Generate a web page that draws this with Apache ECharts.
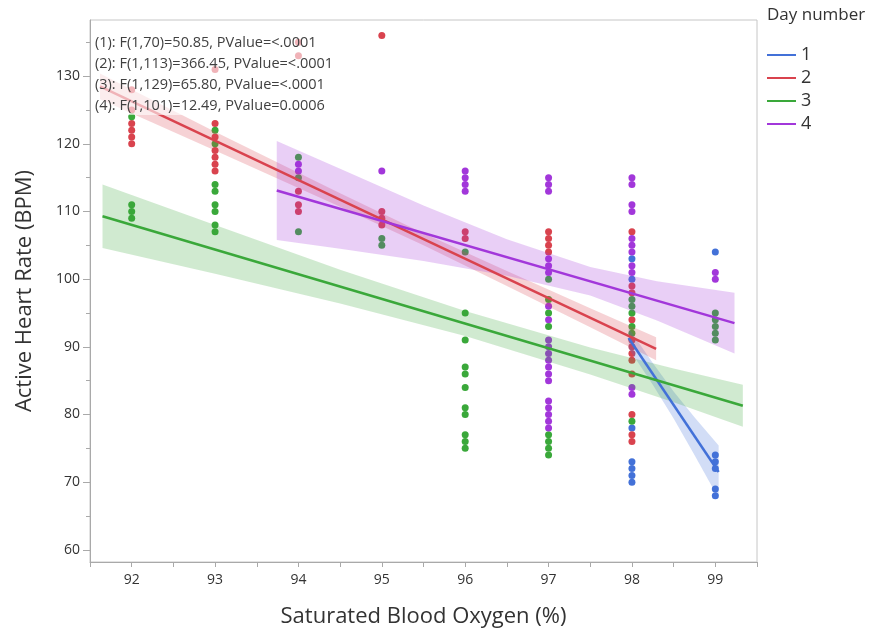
<!DOCTYPE html>
<html>
<head>
<meta charset="utf-8">
<script src="https://cdn.jsdelivr.net/npm/echarts@6/dist/echarts.min.js"></script>
<style>
html, body { margin: 0; padding: 0; background: #fff; }
#chart { width: 885px; height: 633px; }
</style>
</head>
<body>
<div id="chart"></div>
<script>
// tick labels
var xLabelValues = [92, 93, 94, 95, 96, 97, 98, 99];
var xTickValues = [91.5, 92, 92.5, 93, 93.5, 94, 94.5, 95, 95.5, 96, 96.5, 97, 97.5, 98, 98.5, 99, 99.5];
var yLabelValues = [60, 70, 80, 90, 100, 110, 120, 130];
var yMinorValues = [65, 75, 85, 95, 105, 115, 125, 135];

var dayNames = ['1', '2', '3', '4'];

// points, per day: [SpO2, list of heart rates]
var day1Points = [
    [98, [103, 100, 78, 73, 72, 71, 70]],
    [99, [104, 74, 73, 72, 69, 68]]
];
var day2Points = [
    [92, [128, 125, 123, 122, 121, 120]],
    [93, [131, 123, 121, 119, 118, 117, 116]],
    [94, [135, 133, 113, 111, 110]],
    [95, [136, 110, 109, 108]],
    [96, [107, 106]],
    [97, [107, 106, 105, 104]],
    [98, [107, 99, 98, 94, 91, 90, 89, 88, 86, 80, 77, 76]]
];
var day3Points = [
    [92, [124, 111, 110, 109]],
    [93, [122, 120, 114, 113, 111, 110, 108, 107]],
    [94, [118, 115, 107]],
    [95, [106, 105]],
    [96, [104, 95, 91, 87, 86, 84, 81, 80, 77, 76, 75]],
    [97, [100, 97, 95, 93, 77, 76, 75, 74]],
    [98, [97, 96, 95, 93, 92, 79]],
    [99, [95, 94, 93, 92, 91]]
];
var day4Points = [
    [94, [117, 116]],
    [95, [116]],
    [96, [116, 115, 114, 113]],
    [97, [115, 114, 113, 103, 102, 101, 96, 94, 91, 90, 89, 88, 87, 86, 85, 82, 81, 80, 79, 78]],
    [98, [115, 114, 111, 110, 106, 105, 104, 102, 101, 84, 83]],
    [99, [101, 100]]
];

// fit lines: end points
var fit1Line = [[97.96, 91.3], [99.04, 71.5]];
var fit2Line = [[91.62, 128.5], [98.29, 89.7]];
var fit3Line = [[91.65, 109.3], [99.33, 81.3]];
var fit4Line = [[93.74, 113.1], [99.23, 93.5]];

// confidence bands
var band1X = [97.96, 98.25, 98.5, 98.75, 99.04];
var band1Hi = [92.8, 87.6, 83.4, 79.6, 75.4];
var band1Lo = [89.8, 84.4, 79.4, 74.0, 67.6];
var band2X = [91.62, 93, 94.5, 95.5, 96.5, 97.5, 98.29];
var band2Hi = [130.4, 121.8, 112.7, 106.8, 101.2, 95.7, 91.4];
var band2Lo = [126.6, 119.0, 110.7, 105.0, 99.0, 92.9, 88.0];
var band3X = [91.65, 93, 94.5, 96, 97.5, 98.5, 99.33];
var band3Hi = [114.0, 108.0, 101.4, 95.3, 89.9, 86.8, 84.4];
var band3Lo = [104.6, 100.8, 96.4, 91.6, 85.9, 81.8, 78.2];
var band4X = [93.74, 94.5, 95.5, 96.5, 97.5, 98.3, 99.23];
var band4Hi = [120.4, 116.3, 110.9, 105.9, 101.8, 99.7, 98.0];
var band4Lo = [105.8, 104.5, 102.7, 100.5, 97.6, 93.9, 89.0];

var fitStats = [
    '(1): F(1,70)=50.85, PValue=<.0001',
    '(2): F(1,113)=366.45, PValue=<.0001',
    '(3): F(1,129)=65.80, PValue=<.0001',
    '(4): F(1,101)=12.49, PValue=0.0006'
];

var colors = ['#4371d8', '#d9434e', '#3aa83a', '#a237da'];
var fontName = '"Open Sans", "Noto Sans", sans-serif';

var myChart = echarts.init(document.getElementById('chart'));

function flatten(cols) {
    var out = [];
    cols.forEach(function (c) {
        c[1].forEach(function (v) { out.push([c[0], v]); });
    });
    return out;
}

function bandSeries(xs, lo, hi, color) {
    return {
        type: 'custom',
        z: 3,
        silent: true,
        clip: true,
        data: [[xs[0], lo[0]]],
        renderItem: function (params, api) {
            var pts = [];
            for (var i = 0; i < xs.length; i++) pts.push(api.coord([xs[i], hi[i]]));
            for (var j = xs.length - 1; j >= 0; j--) pts.push(api.coord([xs[j], lo[j]]));
            return {
                type: 'polygon',
                shape: { points: pts },
                style: { fill: echarts.color.modifyAlpha(color, 0.24), stroke: null }
            };
        }
    };
}

var allPoints = [day1Points, day2Points, day3Points, day4Points];
var fitLines = [fit1Line, fit2Line, fit3Line, fit4Line];
var bands = [
    [band1X, band1Lo, band1Hi],
    [band2X, band2Lo, band2Hi],
    [band3X, band3Lo, band3Hi],
    [band4X, band4Lo, band4Hi]
];

var series = [];
allPoints.forEach(function (p, i) {
    series.push({
        name: 'pts' + dayNames[i],
        type: 'scatter',
        z: 2,
        symbolSize: 7,
        itemStyle: { color: colors[i], opacity: 1 },
        data: flatten(p)
    });
});
bands.forEach(function (b, i) {
    series.push(bandSeries(b[0], b[1], b[2], colors[i]));
});
fitLines.forEach(function (l, i) {
    series.push({
        name: dayNames[i],
        type: 'line',
        z: 4,
        showSymbol: false,
        color: colors[i],
        lineStyle: { width: 2.5, color: colors[i] },
        data: l
    });
});

var axisGray = '#a9a9a9';

option = {
    animation: false,
    backgroundColor: '#fff',
    grid: {
        left: 90, top: 20, right: 128, bottom: 66,
        show: true, borderColor: '#c6c6c6', borderWidth: 1
    },
    legend: {
        data: dayNames,
        orient: 'vertical',
        left: 762,
        top: 40,
        icon: 'rect',
        itemWidth: 29,
        itemHeight: 2,
        itemGap: 3,
        textStyle: { fontSize: 18, fontFamily: fontName, color: '#333', lineHeight: 20 }
    },
    xAxis: {
        type: 'value',
        min: 91.5,
        max: 99.5,
        name: 'Saturated Blood Oxygen (%)',
        nameLocation: 'middle',
        nameGap: 44,
        nameTextStyle: { fontSize: 22, fontFamily: fontName, color: '#333' },
        axisLine: { lineStyle: { color: axisGray } },
        axisTick: { customValues: xTickValues, length: 5, lineStyle: { color: axisGray } },
        axisLabel: { customValues: xLabelValues, fontSize: 14, fontFamily: fontName, color: '#333', margin: 11 },
        splitLine: { show: false }
    },
    yAxis: [
        {
            type: 'value',
            min: 58.2,
            max: 138.3,
            name: 'Active Heart Rate (BPM)',
            nameLocation: 'middle',
            nameGap: 54,
            nameTextStyle: { fontSize: 22, fontFamily: fontName, color: '#333' },
            axisLine: { show: true, lineStyle: { color: axisGray } },
            axisTick: { show: true, customValues: yLabelValues, length: 7, lineStyle: { color: axisGray } },
            axisLabel: { customValues: yLabelValues, fontSize: 14, fontFamily: fontName, color: '#333', margin: 10 },
            splitLine: { show: false }
        },
        {
            type: 'value',
            min: 58.2,
            max: 138.3,
            position: 'left',
            axisLine: { show: false },
            axisTick: { show: true, customValues: yMinorValues, length: 4, lineStyle: { color: axisGray } },
            axisLabel: { show: false },
            splitLine: { show: false }
        }
    ],
    graphic: [
        {
            type: 'rect',
            z: 100,
            silent: true,
            shape: { x: 91, y: 27, width: 262, height: 88 },
            style: { fill: 'rgba(255,255,255,0.6)' }
        },
        {
            type: 'text',
            z: 101,
            x: 95,
            y: 32,
            style: {
                text: fitStats.join('\n'),
                font: '14.5px ' + fontName,
                lineHeight: 21,
                fill: '#404040'
            }
        },
        {
            type: 'text',
            z: 101,
            x: 767,
            y: 7,
            style: {
                text: 'Day number',
                font: '17px ' + fontName,
                fill: '#333'
            }
        }
    ],
    series: series
};

myChart.setOption(option);
</script>
</body>
</html>
